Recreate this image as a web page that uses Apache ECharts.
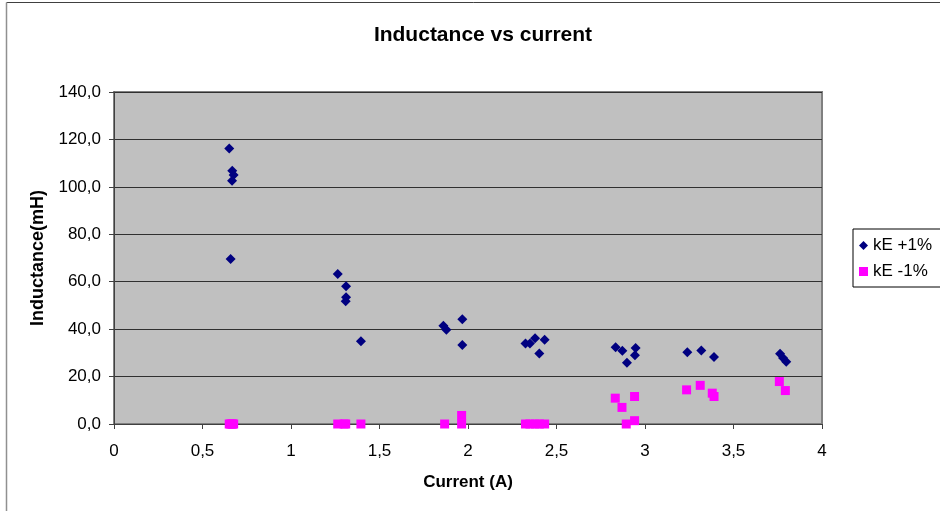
<!DOCTYPE html>
<html>
<head>
<meta charset="utf-8">
<style>
  html, body { margin: 0; padding: 0; background: #ffffff; }
  #chart { width: 940px; height: 511px; }
</style>
<script src="https://cdn.jsdelivr.net/npm/echarts@6/dist/echarts.min.js"></script>
</head>
<body>
<div id="chart"></div>
<script>
// Measured inductance at each test current (A), two kE settings
const kePlusCurrent = [0.651, 0.668, 0.676, 0.667, 0.659,
  1.264, 1.311, 1.311, 1.309, 1.395,
  1.861, 1.878, 1.968, 1.968,
  2.325, 2.350, 2.379, 2.433, 2.403,
  2.834, 2.872, 2.947, 2.943, 2.898,
  3.239, 3.318, 3.390,
  3.763, 3.780, 3.798];
const kePlusInductance = [116.2, 106.8, 105.0, 102.6, 69.6,
  63.3, 58.1, 53.5, 51.8, 34.9,
  41.4, 39.7, 44.2, 33.3,
  33.9, 33.9, 36.2, 35.5, 29.7,
  32.4, 30.9, 32.0, 29.0, 25.8,
  30.3, 31.0, 28.3,
  29.6, 27.8, 26.2];

const keMinusCurrent = [0.651, 0.659, 0.667, 0.668, 0.676,
  1.264, 1.300, 1.309, 1.395,
  1.868, 1.964, 1.964,
  2.325, 2.350, 2.379, 2.403, 2.433,
  2.832, 2.870, 2.894, 2.941, 2.941,
  3.235, 3.312, 3.380, 3.390,
  3.759, 3.793];
const keMinusInductance = [0, 0, 0, 0, 0,
  0, 0, 0, 0,
  0, 3.6, 0,
  0, 0, 0, 0, 0,
  10.9, 7.0, 0, 11.6, 1.4,
  14.4, 16.3, 13.0, 11.6,
  17.9, 14.1];

const seriesNames = ['kE +1%', 'kE -1%'];
const chartTitle = 'Inductance vs current';
const xAxisTitle = 'Current (A)';
const yAxisTitle = 'Inductance(mH)';

const FONT = "'Liberation Sans', Arial, sans-serif";
const pairs = (xs, ys) => xs.map((x, i) => [x, ys[i]]);
const comma = s => String(s).replace('.', ',');

const chart = echarts.init(document.getElementById('chart'), null, { renderer: 'canvas' });
chart.setOption({
  animation: false,
  backgroundColor: '#ffffff',
  textStyle: { fontFamily: FONT },
  title: {
    text: chartTitle,
    left: 478, top: 20, textAlign: 'center',
    textStyle: { fontFamily: FONT, fontSize: 21, fontWeight: 'bold', color: '#000' }
  },
  legend: {
    orient: 'vertical',
    left: 853, top: 229,
    padding: [8, 40, 7, 6],
    itemGap: 9,
    itemWidth: 9, itemHeight: 9,
    borderColor: '#000', borderWidth: 1,
    backgroundColor: '#fff',
    textStyle: { fontFamily: FONT, fontSize: 17, color: '#000' },
    data: [
      { name: seriesNames[0], icon: 'diamond' },
      { name: seriesNames[1], icon: 'rect' }
    ]
  },
  grid: {
    left: 114, top: 92, width: 708, height: 332,
    show: true, backgroundColor: '#C0C0C0', borderColor: '#808080', borderWidth: 2
  },
  xAxis: {
    type: 'value', min: 0, max: 4, interval: 0.5,
    name: xAxisTitle, nameLocation: 'middle', nameGap: 50,
    nameTextStyle: { fontFamily: FONT, fontSize: 17, fontWeight: 'bold', color: '#000' },
    axisLine: { show: true, onZero: false, lineStyle: { color: '#404040', width: 1 } },
    axisTick: { show: true, length: 5, lineStyle: { color: '#404040' } },
    axisLabel: { fontFamily: FONT, fontSize: 17, color: '#000', margin: 19, formatter: v => comma(v) },
    splitLine: { show: false }
  },
  yAxis: {
    type: 'value', min: 0, max: 140, interval: 20,
    name: yAxisTitle, nameLocation: 'middle', nameGap: 67,
    nameTextStyle: { fontFamily: FONT, fontSize: 18, fontWeight: 'bold', color: '#000' },
    axisLine: { show: true, lineStyle: { color: '#404040', width: 1 } },
    axisTick: { show: true, length: 5, lineStyle: { color: '#404040' } },
    axisLabel: { fontFamily: FONT, fontSize: 17, color: '#000', margin: 13, formatter: v => v.toFixed(1).replace('.', ',') },
    splitLine: { show: true, lineStyle: { color: '#303030', width: 1 } }
  },
  series: [
    {
      name: seriesNames[0], type: 'scatter',
      symbol: 'diamond', symbolSize: 10,
      itemStyle: { color: '#000080', opacity: 1 },
      data: pairs(kePlusCurrent, kePlusInductance)
    },
    {
      name: seriesNames[1], type: 'scatter',
      symbol: 'rect', symbolSize: 9,
      itemStyle: { color: '#FF00FF', opacity: 1 },
      data: pairs(keMinusCurrent, keMinusInductance)
    }
  ],
  graphic: [
    { type: 'line', shape: { x1: 6.5, y1: 2.5, x2: 940, y2: 2.5 }, style: { stroke: '#404040', lineWidth: 1 } },
    { type: 'line', shape: { x1: 6.5, y1: 2.5, x2: 6.5, y2: 511 }, style: { stroke: '#909090', lineWidth: 1.5 } }
  ]
});
</script>
</body>
</html>
